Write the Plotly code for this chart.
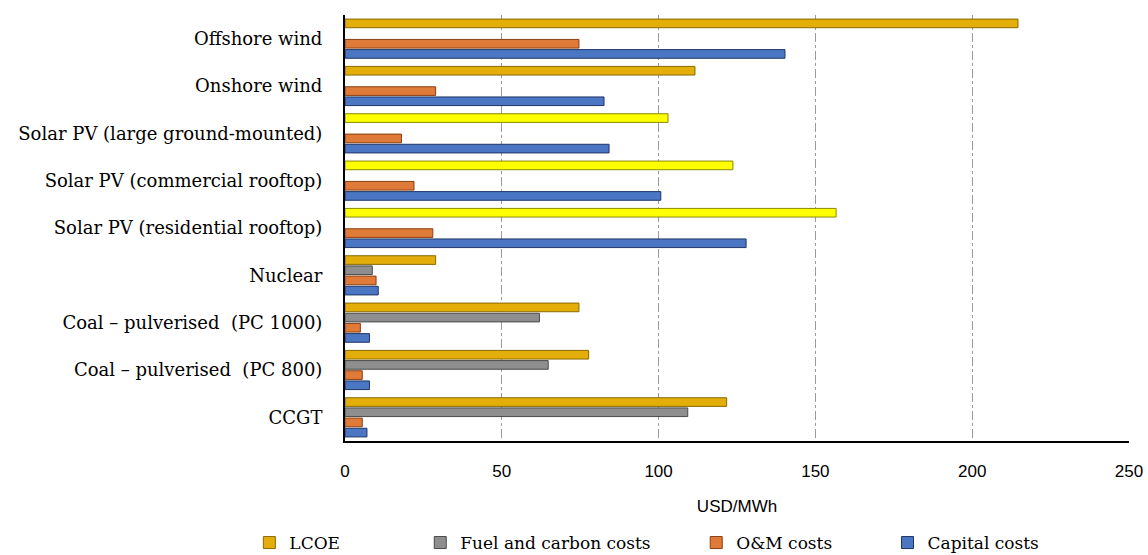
import plotly.graph_objects as go

categories = [
    "Offshore wind",
    "Onshore wind",
    "Solar PV (large ground-mounted)",
    "Solar PV (commercial rooftop)",
    "Solar PV (residential rooftop)",
    "Nuclear",
    "Coal – pulverised  (PC 1000)",
    "Coal – pulverised  (PC 800)",
    "CCGT",
]
lcoe = [214.6, 111.6, 103.0, 123.7, 156.6, 28.9, 74.6, 77.7, 121.7]
fuel = [None, None, None, None, None, 8.7, 62.0, 64.8, 109.3]
om = [74.6, 28.9, 18.0, 22.0, 28.0, 9.9, 4.9, 5.5, 5.5]
capital = [140.3, 82.6, 84.2, 100.7, 127.9, 10.6, 7.8, 7.8, 7.0]

gold = "#E3AE0A"
yellow = "#FFFF00"
lcoe_colors = [yellow if c.startswith("Solar") else gold for c in categories]
lcoe_lines = ["#8A8A00" if c.startswith("Solar") else "#8A6A00" for c in categories]

serif = "DejaVu Serif"
sans = "Liberation Sans"

fig = go.Figure()
series = [
    ("LCOE", lcoe, lcoe_colors, lcoe_lines, "legend"),
    ("Fuel and carbon costs", fuel, "#8E8E8E", "#4A4A4A", "legend2"),
    ("O&M costs", om, "#E07A38", "#8A3F10", "legend3"),
    ("Capital costs", capital, "#4A76C4", "#1F3566", "legend4"),
]
for name, vals, col, lcol, leg in series:
    fig.add_trace(go.Bar(
        name=name, y=categories, x=vals, orientation="h",
        marker=dict(color=col, line=dict(color=lcol, width=1)),
        legend=leg,
    ))

fig.update_layout(
    width=1148, height=573,
    barmode="group", bargap=0.14, bargroupgap=0.15,
    margin=dict(l=345, r=19, t=15, b=118),
    plot_bgcolor="white", paper_bgcolor="white",
    font=dict(family=serif, size=18, color="black"),
    xaxis=dict(
        range=[0, 250], dtick=50, showgrid=True, gridcolor="#9A9A9A",
        griddash="dashdot", gridwidth=1, showline=True, linecolor="black",
        linewidth=2, zeroline=False, ticks="", automargin=False,
        tickfont=dict(family=sans, size=17), ticklabelstandoff=14,
        title=dict(text="USD/MWh", font=dict(family=sans, size=17), standoff=20),
    ),
    yaxis=dict(
        autorange="reversed", showline=True, linecolor="black", linewidth=2,
        ticks="", ticklabelstandoff=17, automargin=False,
        tickfont=dict(family=serif, size=18),
    ),
    showlegend=True,
)

leg_common = dict(orientation="h", yanchor="middle", y=-0.2394, xanchor="left",
                  font=dict(family=serif, size=17), bgcolor="rgba(0,0,0,0)")
fig.update_layout(
    legend=dict(x=-0.122, **leg_common),
    legend2=dict(x=0.096, **leg_common),
    legend3=dict(x=0.448, **leg_common),
    legend4=dict(x=0.692, **leg_common),
)

fig.write_html(
    "out.html",
    config={"displayModeBar": False},
    post_script="document.body.style.margin='0';document.body.style.overflow='hidden';",
)
